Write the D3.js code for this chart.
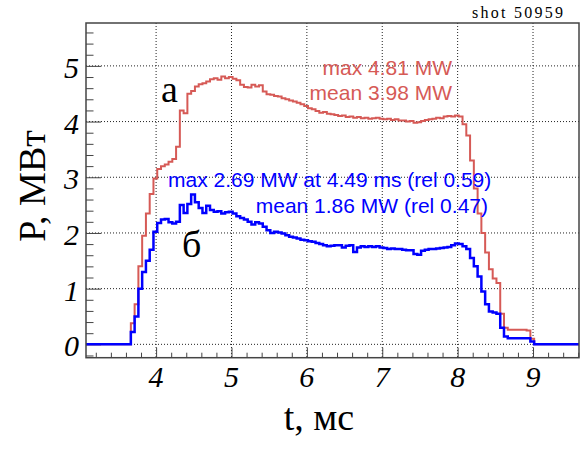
<!DOCTYPE html>
<html>
<head>
<meta charset="utf-8">
<script src="https://cdn.jsdelivr.net/npm/d3@7"></script>
<style>
  body { margin: 0; background: #fff; }
  svg { display: block; }
  .tick-label { font-family: "Liberation Serif", serif; font-style: italic; font-size: 30px; }
  .title { font-family: "Liberation Serif", serif; font-size: 38px; }
  .note { font-family: "Liberation Sans", Arial, sans-serif; font-size: 21px; }
  .shot { font-family: "Liberation Serif", serif; font-size: 16px; }
</style>
</head>
<body>
<svg id="chart"></svg>
<script>
// histogram bins: start time (ms) and width
var binStart = 3.665,
  binWidth = 0.05;

// curve "а" (red), MW per bin
var powerA = [0.38,0.72,1.40,1.95,2.35,2.70,2.98,3.15,3.20,3.23,
  3.28,3.33,3.55,4.20,4.15,4.50,4.55,4.63,4.67,4.69,
  4.72,4.76,4.78,4.75,4.81,4.78,4.80,4.77,4.74,4.66,
  4.62,4.61,4.66,4.63,4.65,4.54,4.49,4.48,4.46,4.45,
  4.42,4.40,4.38,4.36,4.34,4.31,4.28,4.24,4.22,4.19,
  4.16,4.17,4.14,4.13,4.12,4.10,4.11,4.08,4.09,4.07,
  4.08,4.06,4.07,4.05,4.06,4.07,4.05,4.04,4.05,4.03,
  4.04,4.02,4.02,4.00,4.01,3.98,3.99,4.01,4.03,4.04,
  4.05,4.07,4.06,4.09,4.10,4.09,4.11,4.09,3.95,3.75,
  3.30,2.80,2.35,2.00,1.65,1.35,1.18,1.10,0.55,0.30,
  0.26,0.26,0.26,0.26,0.26,0.25,0.10];

// curve "б" (blue), MW per bin
var powerB = [0.22,0.50,1.00,1.30,1.50,1.70,2.02,2.18,2.24,2.25,
  2.19,2.17,2.20,2.50,2.36,2.52,2.69,2.55,2.45,2.36,
  2.49,2.41,2.38,2.39,2.35,2.37,2.38,2.35,2.30,2.27,
  2.24,2.20,2.15,2.19,2.17,2.11,2.05,2.00,2.02,2.01,
  1.99,1.96,1.93,1.92,1.90,1.88,1.87,1.85,1.84,1.82,
  1.80,1.78,1.76,1.77,1.78,1.78,1.74,1.77,1.78,1.66,
  1.74,1.76,1.75,1.76,1.75,1.76,1.74,1.73,1.71,1.72,
  1.71,1.71,1.70,1.69,1.69,1.62,1.61,1.68,1.70,1.71,
  1.71,1.72,1.73,1.74,1.75,1.78,1.81,1.80,1.76,1.71,
  1.55,1.40,1.22,0.95,0.72,0.59,0.57,0.55,0.30,0.14,
  0.11,0.11,0.11,0.11,0.11,0.11,0.05];

var xTicks = [4, 5, 6, 7, 8, 9],
  yTicks = [0, 1, 2, 3, 4, 5],
  notesA = ["max 4.81 MW", "mean 3.98 MW"],
  notesB = ["max 2.69 MW at 4.49 ms (rel 0.59)", "mean 1.86 MW (rel 0.47)"];

var width = 587,
  height = 450,
  frameL = 86, frameR = 579, frameT = 23, frameB = 357.7,
  red = "#d65a56",
  blue = "#0000ff";

var svg = d3.select("#chart")
  .attr("width", width)
  .attr("height", height);

var x = d3.scaleLinear().domain([3.07, 9.61]).range([frameL, frameR]);
var y = d3.scaleLinear().domain([-0.24, 5.77]).range([frameB, frameT]);

// grid
svg.append("g").selectAll("line")
  .data(xTicks).enter().append("line")
  .attr("x1", function(d){ return x(d) }).attr("x2", function(d){ return x(d) })
  .attr("y1", frameT).attr("y2", frameB)
  .attr("stroke", "#222").attr("stroke-width", 1).attr("stroke-dasharray", "1,2");
svg.append("g").selectAll("line")
  .data(yTicks).enter().append("line")
  .attr("x1", frameL).attr("x2", frameR)
  .attr("y1", function(d){ return y(d) }).attr("y2", function(d){ return y(d) })
  .attr("stroke", "#222").attr("stroke-width", 1).attr("stroke-dasharray", "1,2");

// axes with root-like inner ticks
var xMinor = d3.range(3.2, 9.61, 0.2).filter(function(d){ return Math.abs(d - Math.round(d)) > 0.01 });
var yMinor = d3.range(-0.2, 5.77, 0.2).filter(function(d){ return Math.abs(d - Math.round(d)) > 0.01 });

var xAxis = d3.axisBottom(x).tickValues(xTicks).tickSize(-10).tickFormat("");
var xAxisMinor = d3.axisBottom(x).tickValues(xMinor).tickSize(-5).tickFormat("");
var yAxis = d3.axisLeft(y).tickValues(yTicks).tickSize(-15).tickFormat("");
var yAxisMinor = d3.axisLeft(y).tickValues(yMinor).tickSize(-7.5).tickFormat("");

[xAxis, xAxisMinor].forEach(function(ax){
  svg.append("g").attr("transform", "translate(0," + frameB + ")").call(ax)
    .call(function(g){ g.select(".domain").remove(); g.selectAll("line").attr("stroke", "#444"); });
});
[yAxis, yAxisMinor].forEach(function(ax){
  svg.append("g").attr("transform", "translate(" + frameL + ",0)").call(ax)
    .call(function(g){ g.select(".domain").remove(); g.selectAll("line").attr("stroke", "#444"); });
});

// tick labels
svg.append("g").selectAll("text")
  .data(xTicks).enter().append("text")
  .attr("class", "tick-label")
  .attr("x", function(d){ return x(d) })
  .attr("y", 386.5)
  .attr("text-anchor", "middle")
  .text(function(d){ return d });
svg.append("g").selectAll("text")
  .data(yTicks).enter().append("text")
  .attr("class", "tick-label")
  .attr("x", 79)
  .attr("y", function(d){ return y(d) + 12 })
  .attr("text-anchor", "end")
  .text(function(d){ return d });

// histogram step lines
function stepPoints(vals){
  var pts = [[x.domain()[0], 0]];
  vals.forEach(function(v, i){ pts.push([binStart + i * binWidth, v]) });
  pts.push([binStart + vals.length * binWidth, 0]);
  pts.push([x.domain()[1], 0]);
  return pts;
}
var line = d3.line()
  .x(function(d){ return x(d[0]) })
  .y(function(d){ return y(d[1]) })
  .curve(d3.curveStepAfter);

svg.append("path")
  .attr("d", line(stepPoints(powerA)))
  .attr("fill", "none").attr("stroke", red).attr("stroke-width", 2);
svg.append("path")
  .attr("d", line(stepPoints(powerB)))
  .attr("fill", "none").attr("stroke", blue).attr("stroke-width", 2.5);

// frame
svg.append("rect")
  .attr("x", frameL).attr("y", frameT)
  .attr("width", frameR - frameL).attr("height", frameB - frameT)
  .attr("fill", "none").attr("stroke", "#444").attr("stroke-width", 1.5);

// notes
svg.append("g").selectAll("text")
  .data(notesA).enter().append("text")
  .attr("class", "note").attr("fill", red)
  .attr("x", 452).attr("y", function(d, i){ return 75 + i * 25 })
  .attr("text-anchor", "end")
  .text(function(d){ return d });
svg.append("text").attr("class", "note").attr("fill", blue)
  .attr("x", 168).attr("y", 186.5).text(notesB[0]);
svg.append("text").attr("class", "note").attr("fill", blue)
  .attr("x", 488).attr("y", 212.5).attr("text-anchor", "end").text(notesB[1]);

// curve labels
svg.append("text").attr("class", "title").attr("x", 161).attr("y", 102).text("а");
svg.append("text").attr("class", "title").attr("x", 182).attr("y", 257).text("б");

// axis titles
svg.append("text").attr("class", "title")
  .attr("text-anchor", "middle")
  .attr("transform", "translate(45,186)rotate(-90)")
  .text("P, МВт");
svg.append("text").attr("class", "title")
  .attr("text-anchor", "middle")
  .attr("x", 319).attr("y", 430)
  .text("t, мс");

svg.append("text").attr("class", "shot")
  .attr("x", 472).attr("y", 17.5)
  .attr("textLength", 91).attr("lengthAdjust", "spacing")
  .text("shot 50959");
</script>
</body>
</html>
